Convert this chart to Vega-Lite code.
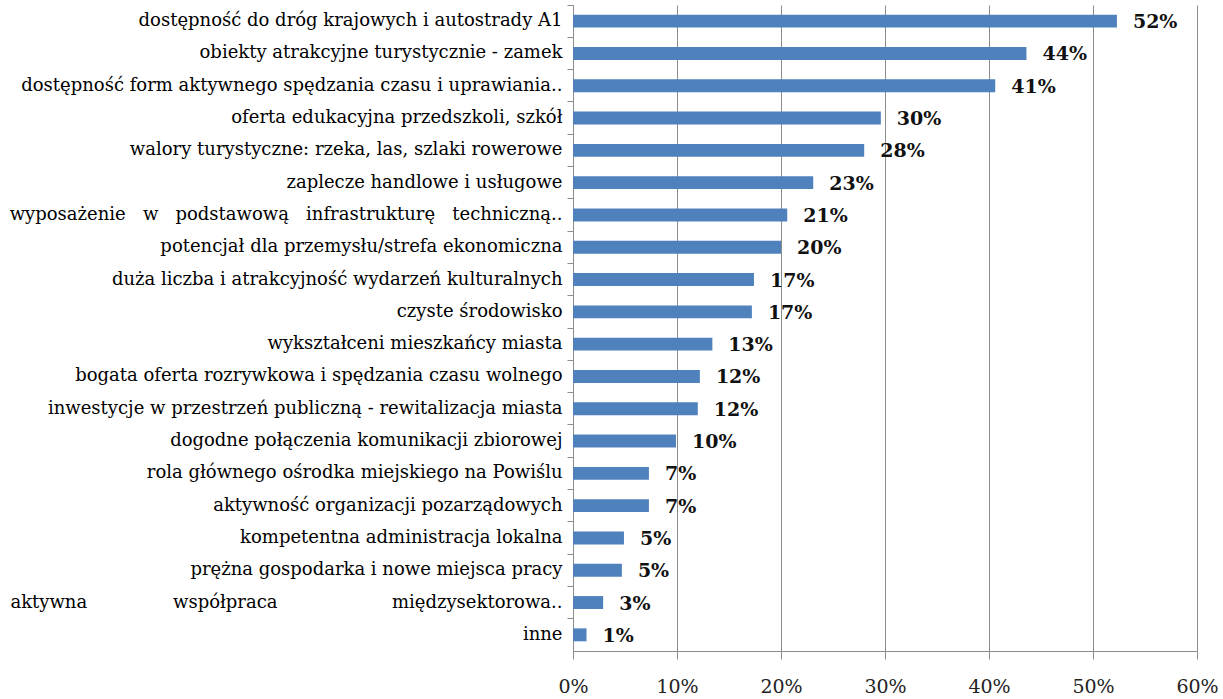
{
  "$schema": "https://vega.github.io/schema/vega-lite/v6.json",
  "autosize": {"type": "none"},
  "width": 624,
  "height": 646,
  "padding": {"left": 573, "top": 5, "right": 26, "bottom": 48},
  "background": "white",
  "config": {
    "view": {"stroke": null},
    "font": "DejaVu Serif"
  },
  "data": {
    "values": [
      {"kategoria": "dostępność do dróg krajowych i autostrady A1", "udzial": 0.523},
      {"kategoria": "obiekty atrakcyjne turystycznie - zamek", "udzial": 0.436},
      {"kategoria": "dostępność form aktywnego spędzania czasu i uprawiania..", "udzial": 0.406},
      {"kategoria": "oferta edukacyjna przedszkoli, szkół", "udzial": 0.296},
      {"kategoria": "walory turystyczne: rzeka, las, szlaki rowerowe", "udzial": 0.28},
      {"kategoria": "zaplecze handlowe i usługowe", "udzial": 0.231},
      {"kategoria": "wyposażenie w podstawową infrastrukturę techniczną..", "udzial": 0.206},
      {"kategoria": "potencjał dla przemysłu/strefa ekonomiczna", "udzial": 0.2},
      {"kategoria": "duża liczba i atrakcyjność wydarzeń kulturalnych", "udzial": 0.174},
      {"kategoria": "czyste środowisko", "udzial": 0.172},
      {"kategoria": "wykształceni mieszkańcy miasta", "udzial": 0.134},
      {"kategoria": "bogata oferta rozrywkowa i spędzania czasu wolnego", "udzial": 0.122},
      {"kategoria": "inwestycje w przestrzeń publiczną - rewitalizacja miasta", "udzial": 0.12},
      {"kategoria": "dogodne połączenia komunikacji zbiorowej", "udzial": 0.099},
      {"kategoria": "rola głównego ośrodka miejskiego na Powiślu", "udzial": 0.073},
      {"kategoria": "aktywność organizacji pozarządowych", "udzial": 0.073},
      {"kategoria": "kompetentna administracja lokalna", "udzial": 0.049},
      {"kategoria": "prężna gospodarka i nowe miejsca pracy", "udzial": 0.047},
      {"kategoria": "aktywna współpraca międzysektorowa..", "udzial": 0.029},
      {"kategoria": "inne", "udzial": 0.013}
    ]
  },
  "encoding": {
    "y": {
      "field": "kategoria",
      "type": "nominal",
      "sort": null,
      "scale": {"paddingInner": 0, "paddingOuter": 0},
      "axis": {
        "title": null,
        "bandPosition": 0,
        "domainColor": "#8c8c8c",
        "tickColor": "#8c8c8c",
        "tickSize": 6,
        "labelPadding": 5,
        "labelFont": "DejaVu Serif",
        "labelFontSize": 18,
        "labelColor": "#000000",
        "labelLimit": 0,
        "labelExpr": "datum.label == 'aktywna współpraca międzysektorowa..' ? 'aktywna\u00a0\u00a0\u00a0\u00a0\u00a0\u00a0\u00a0\u00a0\u00a0\u00a0\u00a0\u00a0\u00a0\u00a0\u00a0współpraca\u00a0\u00a0\u00a0\u00a0\u00a0\u00a0\u00a0\u00a0\u00a0\u00a0\u00a0\u00a0\u00a0\u00a0\u00a0\u00a0\u00a0\u00a0\u00a0\u00a0międzysektorowa..' : datum.label == 'wyposażenie w podstawową infrastrukturę techniczną..' ? replace(datum.label, regexp(' ', 'g'), '\u00a0\u00a0\u00a0') : datum.label"
      }
    }
  },
  "layer": [
    {
      "mark": {"type": "bar", "color": "#4f81bd", "height": {"band": 0.4}},
      "encoding": {
        "x": {
          "field": "udzial",
          "type": "quantitative",
          "scale": {"domain": [0, 0.6], "nice": false},
          "axis": {
            "title": null,
            "format": ".0%",
            "values": [0, 0.1, 0.2, 0.3, 0.4, 0.5, 0.6],
            "grid": true,
            "gridColor": "#8c8c8c",
            "gridWidth": 1,
            "domainColor": "#8c8c8c",
            "tickColor": "#8c8c8c",
            "tickSize": 8,
            "labelPadding": 18,
            "labelBaseline": "top",
            "labelFont": "DejaVu Serif",
            "labelFontSize": 19,
            "labelColor": "#222222",
            "labelFlush": false
          }
        }
      }
    },
    {
      "mark": {"type": "text", "align": "left", "baseline": "middle", "dx": 16, "dy": 1, "font": "DejaVu Serif", "fontSize": 19, "fontWeight": "bold", "color": "#111111"},
      "encoding": {
        "x": {"field": "udzial", "type": "quantitative"},
        "text": {"field": "udzial", "type": "quantitative", "format": ".0%"}
      }
    }
  ]
}
